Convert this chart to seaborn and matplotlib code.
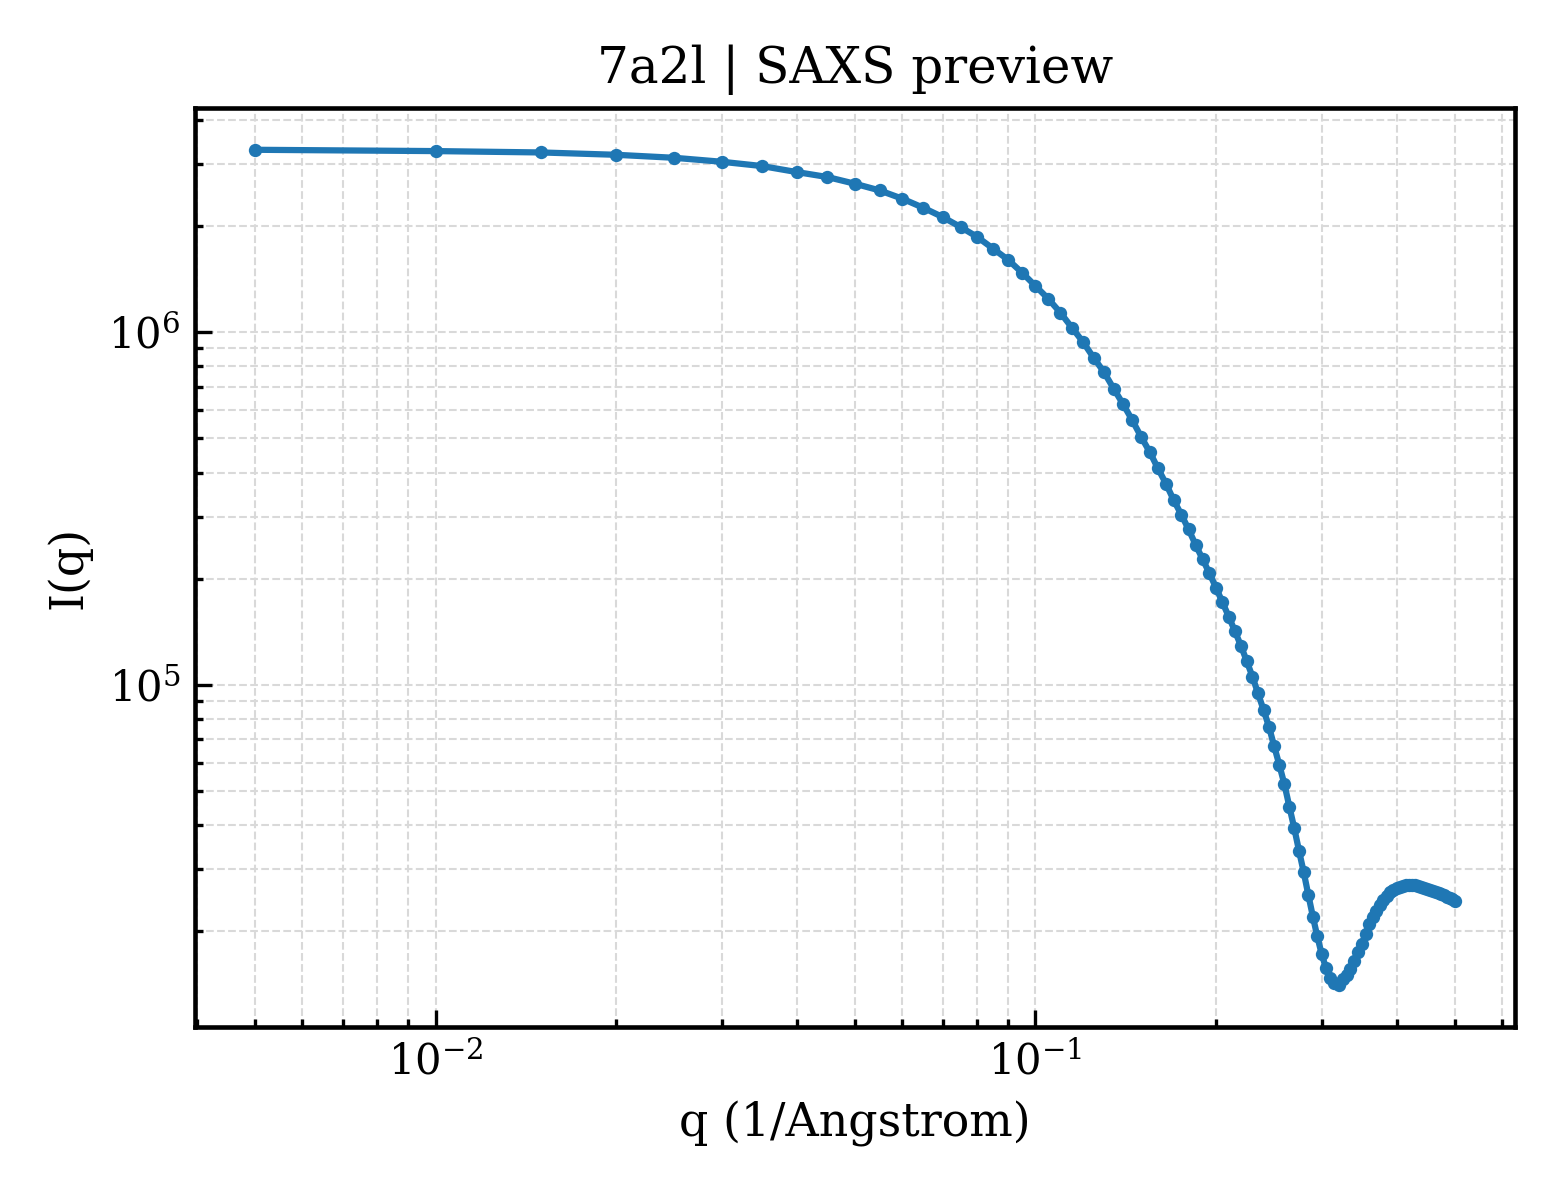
import numpy as np
import pandas as pd
import matplotlib
matplotlib.use("Agg")
import matplotlib.pyplot as plt
import seaborn as sns

# Estilo
sns.set_theme(style="ticks")
plt.rcParams['font.family'] = ['DejaVu Serif']
plt.rcParams['mathtext.fontset'] = 'dejavusans'
plt.rcParams['text.color'] = 'black'
plt.rcParams['axes.labelcolor'] = 'black'
plt.rcParams['xtick.color'] = 'black'
plt.rcParams['ytick.color'] = 'black'

# Dados (q em 1/Angstrom, I(q) em unidades arbitrárias)
q = [0.005, 0.010, 0.015, 0.020, 0.025, 0.030, 0.035, 0.040, 0.045, 0.050,
     0.055, 0.060, 0.065, 0.070, 0.075, 0.080, 0.085, 0.090, 0.095, 0.100,
     0.105, 0.110, 0.115, 0.120, 0.125, 0.130, 0.135, 0.140, 0.145, 0.150,
     0.155, 0.160, 0.165, 0.170, 0.175, 0.180, 0.185, 0.190, 0.195, 0.200,
     0.205, 0.210, 0.215, 0.220, 0.225, 0.230, 0.235, 0.240, 0.245, 0.250,
     0.255, 0.260, 0.265, 0.270, 0.275, 0.280, 0.285, 0.290, 0.295, 0.300,
     0.305, 0.310, 0.315, 0.320, 0.325, 0.330, 0.335, 0.340, 0.345, 0.350,
     0.355, 0.360, 0.365, 0.370, 0.375, 0.380, 0.385, 0.390, 0.395, 0.400,
     0.405, 0.410, 0.415, 0.420, 0.425, 0.430, 0.435, 0.440, 0.445, 0.450,
     0.455, 0.460, 0.465, 0.470, 0.475, 0.480, 0.485, 0.490, 0.495, 0.500]

intensidade = [
    3.293e6, 3.265e6, 3.236e6, 3.187e6, 3.125e6, 3.045e6, 2.961e6, 2.847e6, 2.756e6, 2.638e6,
    2.525e6, 2.392e6, 2.255e6, 2.123e6, 1.989e6, 1.863e6, 1.726e6, 1.606e6, 1.475e6, 1.353e6,
    1.245e6, 1.137e6, 1.031e6, 9.39e5, 8.47e5, 7.72e5, 6.92e5, 6.25e5, 5.63e5, 5.05e5,
    4.58e5, 4.11e5, 3.72e5, 3.34e5, 3.04e5, 2.76e5, 2.49e5, 2.27e5, 2.07e5, 1.885e5,
    1.713e5, 1.560e5, 1.420e5, 1.291e5, 1.167e5, 1.054e5, 9.45e4, 8.48e4, 7.61e4, 6.69e4,
    5.92e4, 5.22e4, 4.51e4, 3.92e4, 3.38e4, 2.94e4, 2.535e4, 2.20e4, 1.932e4, 1.721e4,
    1.571e4, 1.476e4, 1.424e4, 1.403e4, 1.462e4, 1.501e4, 1.561e4, 1.644e4, 1.744e4, 1.837e4,
    1.961e4, 2.094e4, 2.191e4, 2.279e4, 2.370e4, 2.448e4, 2.521e4, 2.580e4, 2.622e4, 2.648e4,
    2.674e4, 2.692e4, 2.700e4, 2.705e4, 2.703e4, 2.695e4, 2.683e4, 2.669e4, 2.654e4, 2.638e4,
    2.622e4, 2.607e4, 2.590e4, 2.572e4, 2.552e4, 2.530e4, 2.507e4, 2.484e4, 2.462e4, 2.441e4]

df = pd.DataFrame({'q': q, 'I': intensidade})

# Gráfico
fig, ax = plt.subplots(figsize=(5.2, 4), dpi=300)
sns.lineplot(data=df, x='q', y='I', marker='o', markersize=3.2,
             markeredgewidth=0, linewidth=1.5, color='#1f77b4', ax=ax)
ax.set_xscale('log')
ax.set_yscale('log')
ax.margins(0.05)

ax.set_title('7a2l | SAXS preview', fontsize=12)
ax.set_xlabel('q (1/Angstrom)', fontsize=11)
ax.set_ylabel('I(q)', fontsize=11)

ax.grid(True, which='both', linestyle='--', linewidth=0.5, color='#d9d9d9')
ax.tick_params(which='both', direction='in', top=False, right=False, labelsize=10,
               color='black', width=0.8)
ax.tick_params(which='major', length=4)
ax.tick_params(which='minor', length=2)
for s in ax.spines.values():
    s.set_color('black')
    s.set_linewidth(1.1)

fig.subplots_adjust(left=0.125, right=0.971, top=0.91, bottom=0.144)
fig.savefig('out.png', dpi=300)
